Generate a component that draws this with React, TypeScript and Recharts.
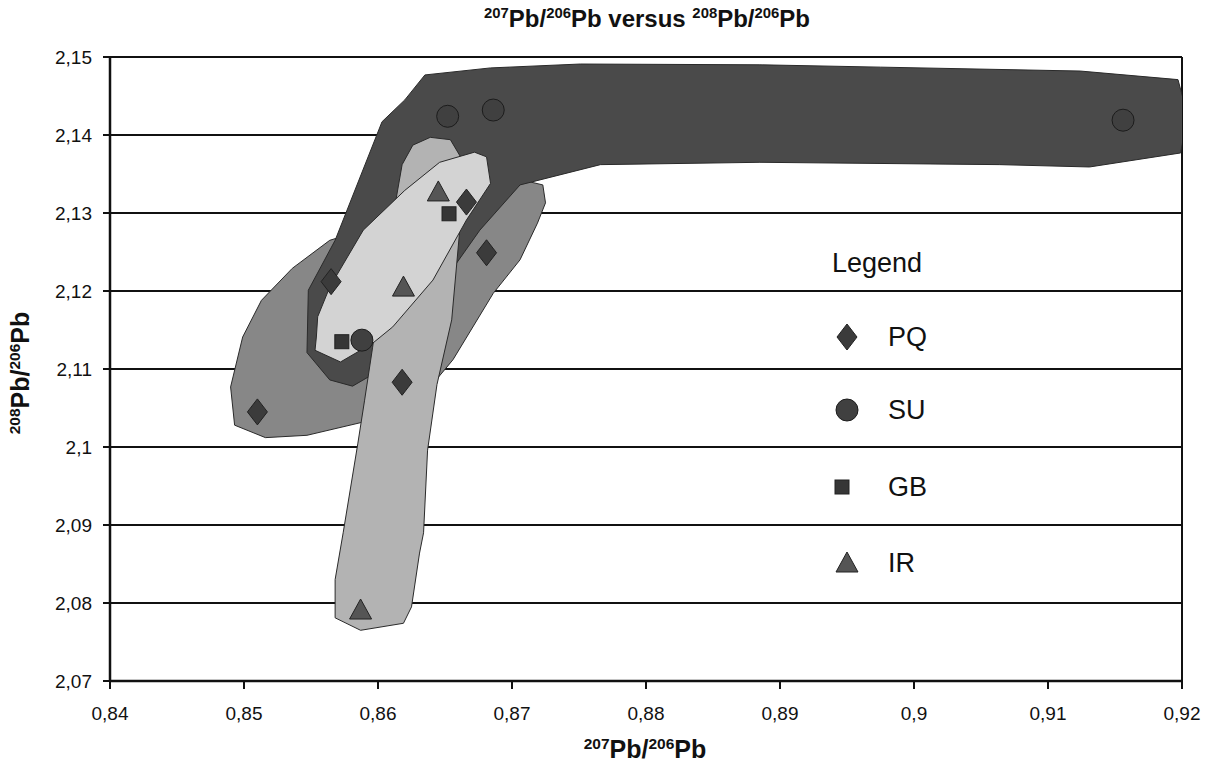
import React from 'react';
import { ScatterChart, Scatter, XAxis, YAxis, CartesianGrid, ReferenceLine } from 'recharts';

const X_TICKS = [0.84, 0.85, 0.86, 0.87, 0.88, 0.89, 0.9, 0.91, 0.92];
const Y_TICKS = [2.07, 2.08, 2.09, 2.1, 2.11, 2.12, 2.13, 2.14, 2.15];

// sample points (207Pb/206Pb, 208Pb/206Pb)
const PQ_X = [0.851, 0.8565, 0.8618, 0.8666, 0.8681];
const PQ_Y = [2.1045, 2.1212, 2.1083, 2.1314, 2.1249];
const SU_X = [0.8652, 0.8686, 0.9156, 0.8588];
const SU_Y = [2.1424, 2.1432, 2.1419, 2.1137];
const GB_X = [0.8573, 0.8653];
const GB_Y = [2.1135, 2.1299];
const IR_X = [0.8645, 0.8619, 0.8587];
const IR_Y = [2.1327, 2.1205, 2.0791];

// shaded field outlines
const SU_ZONE_X = [0.8635, 0.862, 0.8603, 0.8568, 0.8548, 0.8547, 0.8564, 0.8581, 0.8602, 0.8639, 0.8676, 0.8706, 0.8766, 0.8885, 0.9064, 0.9131, 0.9199, 0.9204, 0.9197, 0.9124, 0.8975, 0.8885, 0.8751, 0.8684];
const SU_ZONE_Y = [2.1477, 2.1445, 2.1417, 2.1265, 2.1201, 2.1121, 2.1086, 2.1078, 2.1099, 2.1188, 2.1278, 2.1336, 2.1362, 2.1365, 2.1362, 2.1359, 2.1377, 2.1426, 2.1471, 2.1482, 2.1487, 2.149, 2.1491, 2.1486];
const PQ_ZONE_X = [0.8564, 0.8536, 0.8513, 0.8499, 0.849, 0.8493, 0.8516, 0.8547, 0.8589, 0.8616, 0.8639, 0.8656, 0.8686, 0.8706, 0.8719, 0.8725, 0.8723, 0.8691, 0.8646, 0.8602];
const PQ_ZONE_Y = [2.1265, 2.1229, 2.1188, 2.1141, 2.1077, 2.1028, 2.1012, 2.1015, 2.1032, 2.1047, 2.1077, 2.1112, 2.1197, 2.124, 2.1287, 2.1313, 2.1336, 2.1349, 2.1317, 2.1285];
const IR_ZONE_X = [0.8626, 0.8639, 0.8654, 0.8663, 0.8661, 0.8655, 0.8644, 0.8637, 0.8634, 0.8631, 0.8625, 0.8619, 0.8587, 0.8568, 0.8568, 0.8574, 0.8585, 0.859, 0.8596, 0.8605, 0.8613, 0.8618];
const IR_ZONE_Y = [2.1387, 2.1397, 2.1394, 2.1368, 2.1278, 2.1163, 2.108, 2.0996, 2.089, 2.0864, 2.0795, 2.0774, 2.0765, 2.0781, 2.083, 2.089, 2.1005, 2.106, 2.1128, 2.124, 2.1313, 2.1362];
const GB_ZONE_X = [0.8554, 0.8553, 0.8572, 0.8596, 0.8611, 0.8641, 0.8666, 0.8684, 0.8681, 0.8672, 0.8646, 0.862, 0.8589, 0.8564, 0.8555];
const GB_ZONE_Y = [2.1141, 2.1124, 2.1109, 2.1133, 2.1154, 2.1214, 2.1291, 2.1338, 2.1372, 2.1378, 2.1365, 2.1329, 2.1278, 2.1205, 2.1167];

const LEGEND_NAMES = ['PQ', 'SU', 'GB', 'IR'];

const FONT = '"Liberation Sans", Arial, sans-serif';

const toPoints = (xs: number[], ys: number[]) => xs.map((x, i) => ({ x, y: ys[i] }));

const zoneLine = (fill: string) => (p: any) => (
  <polygon
    points={(p.points || []).map((q: any) => `${q.x},${q.y}`).join(' ')}
    fill={fill}
    stroke="#2a2a2a"
    strokeWidth={1}
  />
);

const noDot = () => <g />;

const Diamond = ({ cx, cy }: any) => (
  <polygon points={`${cx},${cy - 13} ${cx + 10},${cy} ${cx},${cy + 13} ${cx - 10},${cy}`} fill="#3b3b3b" stroke="#222" strokeWidth={1} />
);
const Dot = ({ cx, cy }: any) => <circle cx={cx} cy={cy} r={11} fill="#404040" stroke="#1c1c1c" strokeWidth={1} />;
const Square = ({ cx, cy }: any) => <rect x={cx - 7} y={cy - 7} width={14} height={14} fill="#363636" stroke="#222" strokeWidth={1} />;
const Triangle = ({ cx, cy }: any) => (
  <polygon points={`${cx},${cy - 11} ${cx + 11},${cy + 9} ${cx - 11},${cy + 9}`} fill="#555" stroke="#222" strokeWidth={1} />
);

const ICONS: Record<string, React.FC<any>> = { PQ: Diamond, SU: Dot, GB: Square, IR: Triangle };

const fmt = (v: number) => String(v).replace('.', ',');

const Ratio = ({ top, bottom, size }: { top: string; bottom: string; size: number }) => (
  <span style={{ fontSize: size }}>
    <span style={{ fontSize: size * 0.62, position: 'relative', top: -size * 0.36 }}>{top}</span>
    Pb/
    <span style={{ fontSize: size * 0.62, position: 'relative', top: -size * 0.36 }}>{bottom}</span>
    Pb
  </span>
);

const tickStyle = { fontSize: 19, fill: '#111', fontFamily: FONT };

export default function App() {
  const legendRows = [337, 410, 487, 563];
  return (
    <div style={{ position: 'absolute', left: 0, top: 0, width: 1215, height: 765, background: '#fff', fontFamily: FONT, overflow: 'hidden' }}>
      <ScatterChart width={1215} height={765} margin={{ top: 57, right: 33, bottom: 44, left: 50 }} style={{ fontFamily: FONT }}>
        <CartesianGrid horizontal vertical={false} stroke="#111" strokeWidth={2} />
        <XAxis
          type="number"
          dataKey="x"
          domain={[0.84, 0.92]}
          ticks={X_TICKS}
          allowDataOverflow
          height={40}
          tickFormatter={fmt}
          tickSize={8}
          tickMargin={18}
          fontSize={19}
          axisLine={{ stroke: '#111', strokeWidth: 2.5 }}
          tickLine={{ stroke: '#111', strokeWidth: 2 }}
          tick={tickStyle}
        />
        <YAxis
          type="number"
          dataKey="y"
          domain={[2.07, 2.15]}
          ticks={Y_TICKS}
          allowDataOverflow
          width={60}
          tickFormatter={fmt}
          tickSize={7}
          tickMargin={11}
          fontSize={19}
          axisLine={{ stroke: '#111', strokeWidth: 2.5 }}
          tickLine={{ stroke: '#111', strokeWidth: 2 }}
          tick={tickStyle}
        />
        <ReferenceLine x={0.92} stroke="#111" strokeWidth={2} />
        <Scatter name="PQ zone" data={toPoints(PQ_ZONE_X, PQ_ZONE_Y)} line={zoneLine('#878787')} lineType="joint" shape={noDot} legendType="none" isAnimationActive={false} />
        <Scatter name="SU zone" data={toPoints(SU_ZONE_X, SU_ZONE_Y)} line={zoneLine('#4a4a4a')} lineType="joint" shape={noDot} legendType="none" isAnimationActive={false} />
        <Scatter name="IR zone" data={toPoints(IR_ZONE_X, IR_ZONE_Y)} line={zoneLine('#b3b3b3')} lineType="joint" shape={noDot} legendType="none" isAnimationActive={false} />
        <Scatter name="GB zone" data={toPoints(GB_ZONE_X, GB_ZONE_Y)} line={zoneLine('#d3d3d3')} lineType="joint" shape={noDot} legendType="none" isAnimationActive={false} />
        <Scatter name="PQ" data={toPoints(PQ_X, PQ_Y)} shape={Diamond} isAnimationActive={false} />
        <Scatter name="SU" data={toPoints(SU_X, SU_Y)} shape={Dot} isAnimationActive={false} />
        <Scatter name="GB" data={toPoints(GB_X, GB_Y)} shape={Square} isAnimationActive={false} />
        <Scatter name="IR" data={toPoints(IR_X, IR_Y)} shape={Triangle} isAnimationActive={false} />
      </ScatterChart>

      {/* title */}
      <div style={{ position: 'absolute', left: 0, width: 1294, top: 5, textAlign: 'center', fontWeight: 'bold', fontSize: 24, lineHeight: '28px', color: '#111' }}>
        <Ratio top="207" bottom="206" size={24} /> versus <Ratio top="208" bottom="206" size={24} />
      </div>
      {/* x axis title */}
      <div style={{ position: 'absolute', left: 0, width: 1290, top: 734, textAlign: 'center', fontWeight: 'bold', fontSize: 25, lineHeight: '30px', color: '#111' }}>
        <Ratio top="207" bottom="206" size={25} />
      </div>
      {/* y axis title */}
      <div style={{ position: 'absolute', left: 22 - 100, top: 371 - 15, width: 200, textAlign: 'center', transform: 'rotate(-90deg)', fontWeight: 'bold', fontSize: 25, lineHeight: '30px', color: '#111' }}>
        <Ratio top="208" bottom="206" size={25} />
      </div>

      {/* legend */}
      <div style={{ position: 'absolute', left: 832, top: 263 - 16, fontSize: 27, lineHeight: '32px', color: '#111' }}>Legend</div>
      {LEGEND_NAMES.map((name, i) => {
        const Icon = ICONS[name];
        return (
          <div key={name} style={{ position: 'absolute', left: 826, top: legendRows[i] - 16, height: 32, display: 'flex', alignItems: 'center' }}>
            <svg width={44} height={32}>
              <Icon cx={name === 'GB' ? 16 : 21} cy={16} />
            </svg>
            <span style={{ marginLeft: 18, fontSize: 27, lineHeight: '32px', color: '#111' }}>{name}</span>
          </div>
        );
      })}
    </div>
  );
}
